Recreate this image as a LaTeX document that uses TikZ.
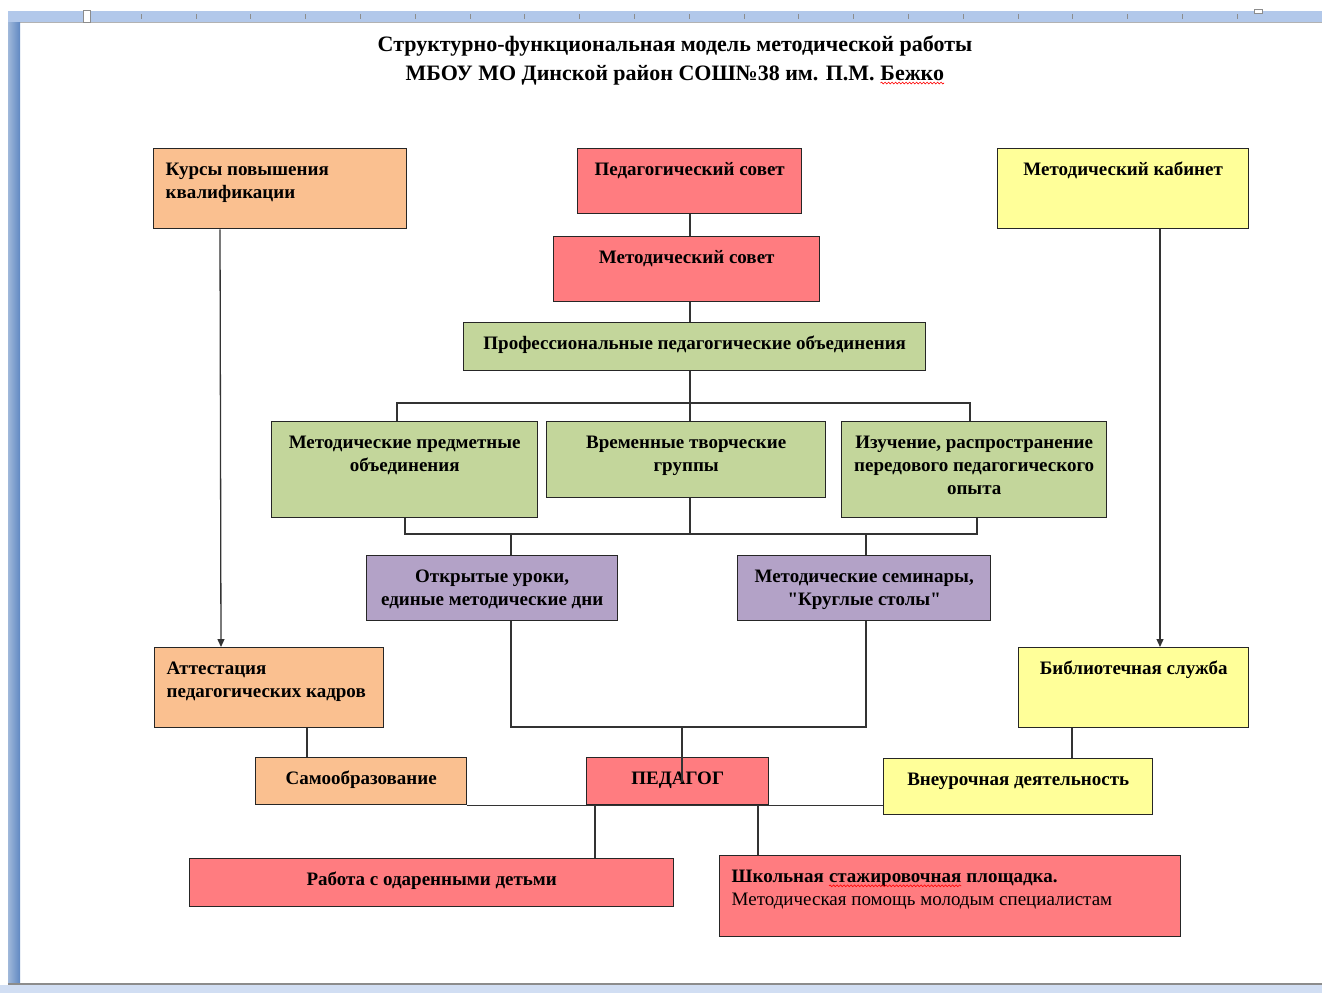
\documentclass[tikz,border=0pt]{standalone}
\usepackage{fontspec}
\setmainfont{Liberation Serif}
\usetikzlibrary{arrows.meta,decorations.pathmorphing}
\newcommand\redwave[1]{\tikz[baseline=(w.base),x=1cm,y=1cm]{\node[draw=none,fill=none,inner sep=0pt,outer sep=0pt,anchor=base](w){#1};
 \draw[draw=red,fill=none,line width=0.6pt,decorate,decoration={snake,amplitude=0.9pt,segment length=3.5pt}] ([yshift=-3pt]w.base west) -- ([yshift=-3pt]w.base east);}}
\definecolor{cor}{RGB}{250,192,144}
\definecolor{cred}{RGB}{255,124,128}
\definecolor{cyel}{RGB}{255,255,153}
\definecolor{cgrn}{RGB}{195,214,155}
\definecolor{cpur}{RGB}{179,162,199}
\definecolor{ruler}{RGB}{178,200,234}
\definecolor{barblue}{RGB}{96,136,194}
\newcommand\lft{\raggedright\leftskip=12pt\relax}
\newcommand\ctr{\centering}
% name, fill, x1, y1, x2, y2, align, text
\newcommand\bx[8]{%
  \node[box,fill=#2,anchor=north west] (#1) at (#3,#4)
  {\parbox[t][\dimexpr#6pt-#4pt\relax][t]{\dimexpr#5pt-#3pt\relax}{#7\vspace*{11pt}\strut #8\par}};}
\begin{document}
\begin{tikzpicture}[x=1pt,y=-1pt,
  box/.style={draw=black!85,line width=1.4pt,inner sep=0pt,
    font=\fontsize{19}{23}\selectfont\bfseries},
  ln/.style={draw=black!80,line width=1.3pt},
  arr/.style={ln,-{Triangle[length=8pt,width=7pt]}},
  ttl/.style={font=\fontsize{22}{29}\selectfont\bfseries,align=center,inner sep=0pt}]
\useasboundingbox (0,0) rectangle (1322,993);
% window chrome
\fill[white] (0,0) rectangle (1322,993);
\fill[ruler] (8,11) rectangle (1322,22);
\draw[black!30] (8,22) -- (1322,22);
\foreach \t in {0,...,20} {\draw[black!45] (141+54.8*\t,14) -- (141+54.8*\t,19);}
\fill[white,draw=black!45] (83,10) rectangle (90,22);
\fill[white,draw=black!45] (1254,9) rectangle (1262,13);
\shade[left color=barblue!60,right color=barblue] (8,22) rectangle (20,983);
\fill[black!45] (8,983) rectangle (1322,985);
\fill[ruler!60] (0,985) rectangle (1322,993);
% title
\node[ttl] (title) at (675,60) {Структурно-функциональная модель методической работы\\
МБОУ МО Динской район СОШ№38 им. П.М. \redwave{Бежко}};
% boxes
\bx{kursy}{cor}{153}{148}{406}{228}{\lft}{Курсы повышения\\квалификации}
\bx{pedsov}{cred}{577}{148}{801}{213}{\ctr}{Педагогический совет}
\bx{kab}{cyel}{997}{148}{1248}{228}{\ctr}{Методический кабинет}
\bx{metsov}{cred}{553}{236}{819}{301}{\ctr}{Методический совет}
\bx{prof}{cgrn}{463}{322}{925}{370}{\ctr}{Профессиональные педагогические объединения}
\bx{mpo}{cgrn}{271}{421}{537}{517}{\ctr}{Методические предметные\\объединения}
\bx{vtg}{cgrn}{546}{421}{825}{497}{\ctr}{Временные творческие\\группы}
\bx{izu}{cgrn}{841}{421}{1106}{517}{\ctr}{Изучение, распространение\\передового педагогического\\опыта}
\bx{otkr}{cpur}{366}{555}{617}{620}{\ctr}{Открытые уроки,\\единые методические дни}
\bx{sem}{cpur}{737}{555}{990}{620}{\ctr}{Методические семинары,\\\textquotedbl Круглые столы\textquotedbl}
\bx{att}{cor}{154}{647}{383}{727}{\lft}{Аттестация\\педагогических кадров}
\bx{bibl}{cyel}{1018}{647}{1248}{727}{\ctr}{Библиотечная служба}
\bx{samo}{cor}{255}{757}{466}{804}{\ctr}{Самообразование}
\bx{ped}{cred}{586}{757}{768}{804}{\ctr}{ПЕДАГОГ}
\bx{vneur}{cyel}{883}{758}{1152}{814}{\ctr}{Внеурочная деятельность}
\bx{rab}{cred}{189}{858}{673}{906}{\ctr}{Работа с одаренными детьми}
\bx{shk}{cred}{719}{855}{1180}{936}{\lft}{Школьная \redwave{стажировочная} площадка.\\\mdseries Методическая помощь молодым специалистам}
% connectors
\draw[ln] ([xshift=113pt]pedsov.south west) -- ([xshift=137pt]metsov.north west);
\draw[ln] ([xshift=137pt]metsov.south west) -- ([xshift=227pt]prof.north west);
\coordinate (b1) at (690,403);
\draw[ln] ([xshift=227pt]prof.south west) -- (b1);
\draw[ln] ([xshift=126pt]mpo.north west) |- (b1) -| ([xshift=129pt]izu.north west);
\draw[ln] (b1) -- ([xshift=144pt]vtg.north west);
\coordinate (b2) at (690,534);
\draw[ln] ([xshift=144pt]vtg.south west) -- (b2);
\draw[ln] ([xshift=134pt]mpo.south west) |- (b2) -| ([xshift=136pt]izu.south west);
\draw[ln] ([xshift=145pt]otkr.north west) |- (b2) -| ([xshift=129pt]sem.north west);
\coordinate (b3) at (682,727);
\draw[ln] ([xshift=145pt]otkr.south west) |- (b3) -| ([xshift=129pt]sem.south west);
\draw[ln] (b3) -- ([xshift=96pt,yshift=-25pt]ped.north west);
\draw[arr] ([xshift=67pt]kursy.south west) -- ([xshift=67pt]att.north west);
\draw[arr] ([xshift=163pt]kab.south west) -- ([xshift=142pt]bibl.north west);
\draw[ln] ([xshift=153pt]att.south west) -- ([xshift=52pt]samo.north west);
\draw[ln] ([xshift=54pt]bibl.south west) -- ([xshift=189pt]vneur.north west);
\draw[ln] (samo.south east) -- (samo.south east -| vneur.west);
\draw[ln] ([xshift=9pt]ped.south west) -- ([xshift=406pt]rab.north west);
\draw[ln] ([xshift=172pt]ped.south west) -- ([xshift=39pt]shk.north west);
\end{tikzpicture}
\end{document}
